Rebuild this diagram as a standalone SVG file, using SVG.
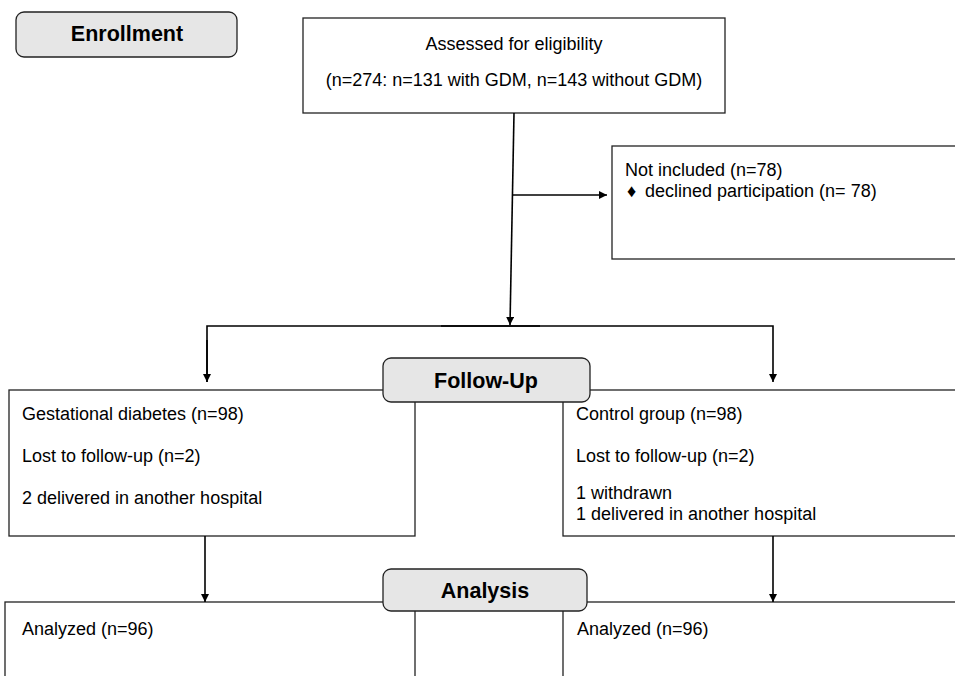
<svg xmlns="http://www.w3.org/2000/svg" width="955" height="676" viewBox="0 0 955 676">
<defs>
<marker id="ah" viewBox="0 0 10 10" refX="10" refY="5" markerWidth="8" markerHeight="8" markerUnits="userSpaceOnUse" orient="auto">
<path d="M0,0 L10,5 L0,10 Z" fill="#000"/>
</marker>
<style>
.box{fill:#fff;stroke:#222;stroke-width:1.3}
.lab{fill:#e6e6e6;stroke:#222;stroke-width:1.3}
.t{font-family:"Liberation Sans",Arial,sans-serif;font-size:18px;fill:#000}
.b{font-family:"Liberation Sans",Arial,sans-serif;font-size:21.5px;font-weight:bold;fill:#000;text-anchor:middle}
.c{stroke:#000;stroke-width:1.6;fill:none}
</style>
</defs>
<rect width="955" height="676" fill="#fff"/>
<g id="enrollment">
<rect class="lab" x="16" y="12" width="221" height="45" rx="8"/>
<text class="b" x="127" y="41">Enrollment</text>
</g>
<g id="assessed">
<rect class="box" x="303" y="18" width="422" height="95"/>
<text class="t" x="514" y="50" text-anchor="middle">Assessed for eligibility</text>
<text class="t" x="514" y="86" text-anchor="middle">(n=274: n=131 with GDM, n=143 without GDM)</text>
</g>
<g id="notincluded">
<rect class="box" x="612" y="146" width="350" height="113"/>
<text class="t" x="625" y="176">Not included (n=78)</text>
<text class="t" x="627" y="197" font-size="14">♦</text>
<text class="t" x="645" y="197">declined participation (n= 78)</text>
</g>
<g id="gdm">
<rect class="box" x="9" y="390" width="406" height="146"/>
<text class="t" x="22" y="420">Gestational diabetes (n=98)</text>
<text class="t" x="22" y="462">Lost to follow-up (n=2)</text>
<text class="t" x="22" y="504">2 delivered in another hospital</text>
</g>
<g id="control">
<rect class="box" x="563" y="390" width="400" height="146"/>
<text class="t" x="576" y="420">Control group (n=98)</text>
<text class="t" x="576" y="462">Lost to follow-up (n=2)</text>
<text class="t" x="576" y="499">1 withdrawn</text>
<text class="t" x="576" y="520">1 delivered in another hospital</text>
</g>
<g id="analyzed-gdm">
<rect class="box" x="5" y="602" width="410" height="90"/>
<text class="t" x="22" y="635">Analyzed (n=96)</text>
</g>
<g id="analyzed-control">
<rect class="box" x="563" y="602" width="400" height="90"/>
<text class="t" x="577" y="635">Analyzed (n=96)</text>
</g>
<g id="followup">
<rect class="lab" x="383" y="358" width="207" height="44" rx="8"/>
<text class="b" x="486" y="388">Follow-Up</text>
</g>
<g id="analysis">
<rect class="lab" x="383" y="569" width="204" height="42" rx="8"/>
<text class="b" x="485" y="598">Analysis</text>
</g>
<g id="connectors">
<line class="c" x1="514" y1="113" x2="510" y2="325" marker-end="url(#ah)"/>
<line class="c" x1="513" y1="195" x2="607" y2="195" marker-end="url(#ah)"/>
<polyline class="c" points="207,382 207,326 773,326 773,382" marker-end="url(#ah)"/>
<line class="c" x1="207" y1="340" x2="207" y2="382" marker-end="url(#ah)"/>
<line class="c" x1="441" y1="326" x2="540" y2="326" stroke-width="2.2"/>
<line class="c" x1="205" y1="536" x2="205" y2="602" marker-end="url(#ah)"/>
<line class="c" x1="773" y1="536" x2="773" y2="602" marker-end="url(#ah)"/>
</g>
</svg>
